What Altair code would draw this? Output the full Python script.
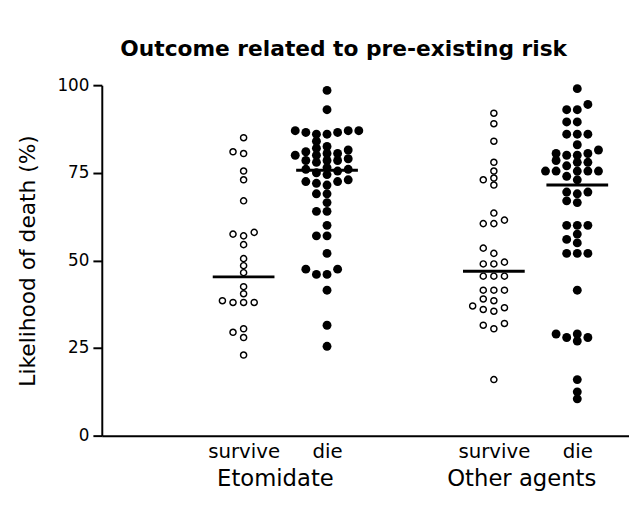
import altair as alt
import pandas as pd

# ---- data ----
categories = ["survive", "die", "survive", "die"]
agents = ["Etomidate", "Etomidate", "Other agents", "Other agents"]

eto_survive = [85, 81, 80.5, 75.5, 73, 67, 57.5, 54.5, 57, 58, 50.5, 48.5, 46.5,
               42.5, 40.5, 38, 38, 38, 38.5, 29.5, 28, 30.5, 23]
eto_die = [98.5, 93,
           87, 86.5, 87, 86, 87, 86.5, 86,
           84,
           81.5, 80, 78.5, 82.5, 80.5, 78.5, 80.5, 78, 82, 80, 78.5, 81, 79,
           76.5, 76, 75.5, 75, 74.5, 76,
           73, 72.5, 72.5, 71.5, 72,
           69, 69, 66.5, 64, 64, 60, 57, 57, 52,
           47.5, 46, 46, 47.5, 41.5, 31.5, 25.5]
oth_survive = [92, 89, 84, 78, 75.5, 73, 71.5, 73.5, 61.5, 60.5, 60.5, 63.5,
               53.5, 52, 49.5, 49, 49, 45.5, 45.5, 45.5, 41.5, 41.5, 41.5,
               38.5, 39, 36.5, 35.5, 36, 37, 31.5, 30.5, 32, 16]
oth_die = [99, 94.5, 93, 93, 89.5, 89.5, 86, 86, 86, 83, 81.5, 80.5, 80.5, 80, 80,
           78.5, 78, 78, 77, 75.5, 75.5, 75.5, 75.5, 75.5, 74, 73,
           69.5, 69, 67, 66.5, 69.5,
           60, 60, 60, 57.5, 56, 55, 52, 52, 52,
           41.5, 29, 28, 27, 28, 29, 16, 12.5, 10.5]
medians = [45.3, 75.7, 46.9, 71.5]

series = [eto_survive, eto_die, oth_survive, oth_die]

# ---- layout constants ----
CENTERS = [1.7, 2.7, 4.7, 5.7]
SLOT = 0.127
HALF = 0.37
FONT = "DejaVu Sans"


def swarm(vals, thr=2.0):
    placed = []
    res = [0] * len(vals)
    order = sorted(range(len(vals)), key=lambda i: vals[i])
    for i in order:
        v = vals[i]
        for s in [0, -1, 1, -2, 2, -3, 3, -4, 4, -5, 5, -6, 6]:
            if all(abs(v - pv) >= thr for pv, ps in placed if ps == s):
                res[i] = s
                placed.append((v, s))
                break
    return res


rows = []
for k, vals in enumerate(series):
    slots = swarm(vals)
    for v, s in zip(vals, slots):
        rows.append({"outcome": categories[k], "agent": agents[k],
                     "value": v, "xpos": CENTERS[k] + s * SLOT})
pts = pd.DataFrame(rows)

med = pd.DataFrame({
    "outcome": categories, "agent": agents, "median": medians,
    "x1": [c - HALF for c in CENTERS], "x2": [c + HALF for c in CENTERS],
})

xscale = alt.Scale(domain=[0, 6.32], nice=False, zero=False)
yscale = alt.Scale(domain=[0, 100], nice=False)

label_expr = ("datum.value < 2.2 || (datum.value > 4 && datum.value < 5.2) ? '"
              + categories[0] + "' : '" + categories[1] + "'")

xaxis = alt.Axis(values=CENTERS, labelExpr=label_expr, ticks=False, grid=False,
                 title=None, domainColor="black", domainWidth=2,
                 labelFontSize=20, labelFont=FONT, labelColor="black",
                 labelPadding=6)
yaxis = alt.Axis(values=[0, 25, 50, 75, 100], grid=False,
                 title="Likelihood of death (%)", titleFont=FONT,
                 titleFontSize=22, titleFontWeight="normal", titleColor="black",
                 titlePadding=18, labelFont=FONT, labelFontSize=17,
                 labelColor="black", labelPadding=4, tickSize=9, tickWidth=2,
                 tickColor="black", domainColor="black", domainWidth=2)

base = alt.Chart(pts)

open_pts = base.transform_filter(alt.datum.outcome == categories[0]).mark_point(
    shape="circle", filled=False, color="black", strokeWidth=1.5, size=38, opacity=1
).encode(
    x=alt.X("xpos:Q", scale=xscale, axis=xaxis),
    y=alt.Y("value:Q", scale=yscale, axis=yaxis),
)

filled_pts = base.transform_filter(alt.datum.outcome == categories[1]).mark_circle(
    color="black", size=81, opacity=1
).encode(
    x=alt.X("xpos:Q", scale=xscale, axis=xaxis),
    y=alt.Y("value:Q", scale=yscale, axis=yaxis),
)

med_rules = alt.Chart(med).mark_rule(color="black", strokeWidth=3).encode(
    x=alt.X("x1:Q", scale=xscale, axis=xaxis),
    x2="x2:Q",
    y=alt.Y("median:Q", scale=yscale, axis=yaxis),
)

grp = pd.DataFrame({"agent": [agents[0], agents[2]],
                    "xc": [(CENTERS[0] + CENTERS[1]) / 2, (CENTERS[2] + CENTERS[3]) / 2]})

grp1 = alt.Chart(grp).transform_filter(alt.datum.agent == agents[0]).mark_text(
    font=FONT, fontSize=23, color="black", baseline="alphabetic", dx=-10
).encode(x=alt.X("xc:Q", scale=xscale, axis=xaxis), y=alt.value(406), text="agent:N")

grp2 = alt.Chart(grp).transform_filter(alt.datum.agent == agents[2]).mark_text(
    font=FONT, fontSize=23, color="black", baseline="alphabetic", dx=-14
).encode(x=alt.X("xc:Q", scale=xscale, axis=xaxis), y=alt.value(406), text="agent:N")

chart = alt.layer(open_pts, filled_pts, med_rules, grp1, grp2).properties(
    width=534, height=355,
    background="white",
    title=alt.TitleParams("Outcome related to pre-existing risk", font=FONT,
                          fontSize=22, fontWeight="bold", color="black",
                          anchor="middle", dx=-22, offset=16),
    autosize=alt.AutoSizeParams(type="none"),
    padding={"left": 95, "top": 75, "right": 0, "bottom": 60},
).configure_view(strokeWidth=0).configure_axis(grid=False)

chart.save("out.html", embed_options={"renderer": "svg", "actions": False})
